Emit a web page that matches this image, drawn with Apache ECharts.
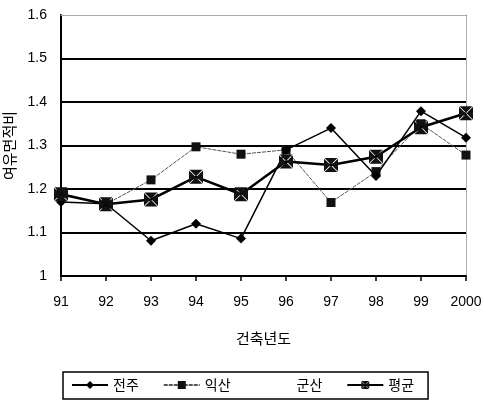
<!DOCTYPE html>
<html style="height: 100%">
<head>
  <meta charset="utf-8">
  <script src="https://cdn.jsdelivr.net/npm/echarts@6/dist/echarts.min.js"></script>
</head>
<body style="height: 100%; margin: 0; background: #fff">
  <div id="container" style="width: 484px; height: 402px"></div>
  <script type="text/javascript">
    var years = ['91', '92', '93', '94', '95', '96', '97', '98', '99', '2000'];
    var jeonju = [1.17, 1.166, 1.081, 1.12, 1.086, 1.29, 1.34, 1.23, 1.379, 1.318];
    var iksan = [1.19, 1.165, 1.221, 1.297, 1.28, 1.29, 1.169, 1.24, 1.35, 1.278];
    var gunsan = [];
    var average = [1.188, 1.165, 1.176, 1.228, 1.188, 1.263, 1.255, 1.274, 1.342, 1.374];

    // black square with a faint X through it
    var boxX = 'path://M0.4,0L9.6,0L5,4.6Z M10,0.4L10,9.6L5.4,5Z M9.6,10L0.4,10L5,5.4Z M0,9.6L0,0.4L4.6,5Z';
    var font = 'Liberation Sans, Arial, sans-serif';
    var kfont = 'Noto Sans CJK KR, sans-serif';

    var myChart = echarts.init(document.getElementById('container'));

    option = {
      animation: false,
      grid: { left: 61, right: 18, top: 15, bottom: 126, containLabel: false, outerBoundsMode: 'none' },
      legend: {
        left: 63,
        top: 372,
        width: 403,
        padding: [6, 14, 7, 8],
        borderColor: '#000',
        borderWidth: 1.5,
        borderRadius: 0,
        itemGap: 24,
        itemWidth: 36,
        itemHeight: 10,
        textStyle: { fontFamily: kfont, fontSize: 14, color: '#000' },
        data: ['전주', '익산', '군산', '평균']
      },
      xAxis: [{
        type: 'category',
        data: years,
        boundaryGap: false,
        name: '건축년도',
        nameLocation: 'middle',
        nameGap: 55,
        nameTextStyle: { fontFamily: kfont, fontSize: 15, color: '#000' },
        axisLine: { lineStyle: { color: '#000', width: 2 } },
        axisTick: { alignWithLabel: true, length: 5, lineStyle: { color: '#000', width: 1.5 } },
        axisLabel: { margin: 19, fontFamily: font, fontSize: 14, color: '#000' }
      }, {
        type: 'category',
        data: years,
        boundaryGap: false,
        position: 'top',
        axisLine: { lineStyle: { color: '#999', width: 1, type: 'dotted' } },
        axisTick: { show: false },
        axisLabel: { show: false }
      }],
      yAxis: [{
        type: 'value',
        min: 1,
        max: 1.6,
        interval: 0.1,
        name: '여유면적비',
        nameLocation: 'middle',
        nameRotate: 90,
        nameGap: 43,
        nameTextStyle: { fontFamily: kfont, fontSize: 15, color: '#000' },
        axisLine: { show: true, lineStyle: { color: '#000', width: 2 } },
        axisTick: { show: false },
        axisLabel: { margin: 14, fontFamily: font, fontSize: 14, color: '#000' },
        splitLine: { showMinLine: false, showMaxLine: false, lineStyle: { color: '#000', width: 2 } }
      }, {
        type: 'value',
        min: 1,
        max: 1.6,
        interval: 0.1,
        position: 'right',
        axisLine: { show: true, lineStyle: { color: '#999', width: 1, type: 'dotted' } },
        axisTick: { show: false },
        axisLabel: { show: false },
        splitLine: { show: false }
      }],
      series: [{
        name: '전주',
        type: 'line',
        data: jeonju,
        symbol: 'diamond',
        symbolSize: 10,
        itemStyle: { color: '#000' },
        lineStyle: { color: '#000', width: 1.5 },
        z: 3
      }, {
        name: '익산',
        type: 'line',
        data: iksan,
        symbol: 'rect',
        symbolSize: 9,
        itemStyle: { color: '#111' },
        lineStyle: { color: '#555', width: 1, type: [4, 1] },
        z: 2
      }, {
        name: '군산',
        type: 'line',
        data: gunsan,
        symbol: 'none',
        itemStyle: { color: 'rgba(0,0,0,0)' },
        lineStyle: { color: 'rgba(0,0,0,0)' }
      }, {
        name: '평균',
        type: 'line',
        data: average,
        symbol: boxX,
        symbolSize: 14,
        symbolKeepAspect: true,
        itemStyle: { color: '#111' },
        lineStyle: { color: '#000', width: 2.5 },
        z: 4
      }]
    };

    myChart.setOption(option);
  </script>
</body>
</html>
